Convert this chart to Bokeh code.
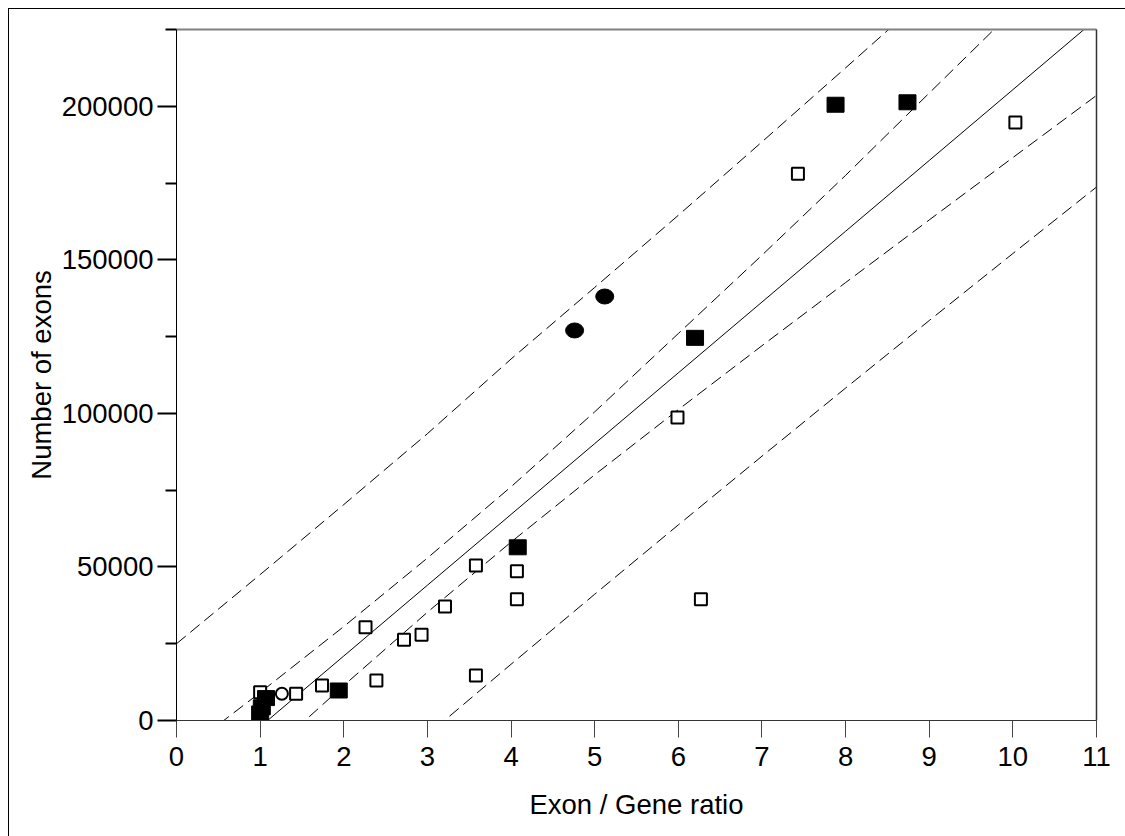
from bokeh.plotting import figure
from bokeh.models import Range1d, LinearAxis, FixedTicker, NumeralTickFormatter
from bokeh.embed import file_html
from bokeh.resources import INLINE

# ---------------- data ----------------
x_ticks = [0, 1, 2, 3, 4, 5, 6, 7, 8, 9, 10, 11]
y_ticks = [0, 50000, 100000, 150000, 200000]
y_minor_ticks = [25000, 75000, 125000, 175000, 225000]

open_sq_x = [10.03, 7.43, 5.99, 6.27, 4.07, 4.07, 3.58, 3.58, 3.21, 2.93, 2.72, 2.26, 2.39, 1.74, 1.43, 1.00, 1.00]
open_sq_y = [194700, 178000, 98700, 39500, 48600, 39500, 50470, 14650, 37100, 27900, 26300, 30400, 13000, 11400, 8690, 9200, 0]

filled_sq_x = [7.88, 8.74, 6.20, 4.08, 1.94, 1.07, 1.02, 1.00]
filled_sq_y = [200500, 201300, 124600, 56400, 9770, 7300, 4300, 2300]

filled_ell_x = [5.12, 4.76]
filled_ell_y = [138060, 127000]

open_circ_x = [1.26]
open_circ_y = [8690]

# regression line and bands, read at x = 0..11
band_x = [0, 1, 2, 3, 4, 5, 6, 7, 8, 9, 10, 11]
fit_y = [-25100, -2050, 21000, 44050, 67100, 90150, 113200, 136250, 159300, 182350, 205400, 228450]
inner_upper = [-11800, 9100, 30600, 52900, 76100, 100500, 126000, 151500, 177500, 204300, 231000, 257500]
inner_lower = [-38390, -13240, 11400, 35250, 58100, 80000, 101220, 122030, 142590, 162990, 183290, 203530]
outer_upper = [25000, 47500, 70300, 93400, 117700, 141000, 164500, 188400, 212500, 236800, 261000, 285400]
outer_lower = [-74990, -51350, -27920, -4690, 18310, 41110, 63690, 86060, 108240, 130230, 152050, 173700]

FONT = "Liberation Sans"
FS = "27.5px"
DASH = "12 6"

p = figure(width=1117, height=828, output_backend="svg", toolbar_location=None,
           x_range=Range1d(0, 11), y_range=Range1d(0, 225000),
           x_axis_location=None, y_axis_location=None,
           min_border_left=168, min_border_right=29, min_border_top=21, min_border_bottom=116)
p.xgrid.visible = False
p.ygrid.visible = False
p.outline_line_color = None
p.background_fill_color = "white"
p.border_fill_color = None
p.styles = {"box-shadow": "inset 1px 1px 0 0 #000", "margin-left": "8px", "margin-top": "8px"}

xaxis = LinearAxis(bounds=(0, 11), ticker=FixedTicker(ticks=x_ticks),
                   axis_label="Exon / Gene ratio")
xaxis.major_tick_out = 17
xaxis.major_tick_in = 0
xaxis.major_tick_line_color = "#444444"
xaxis.major_tick_line_width = 1
xaxis.axis_line_color = "#333333"
xaxis.major_label_standoff = 9
xaxis.axis_label_standoff = 20
p.add_layout(xaxis, "below")

yaxis = LinearAxis(bounds=(0, 225000),
                   ticker=FixedTicker(ticks=y_ticks, minor_ticks=y_minor_ticks),
                   formatter=NumeralTickFormatter(format="0"),
                   axis_label="Number of exons")
yaxis.major_tick_out = 19
yaxis.major_tick_in = 0
yaxis.minor_tick_out = 11
yaxis.minor_tick_in = 0
yaxis.major_tick_line_width = 2
yaxis.minor_tick_line_width = 2
yaxis.major_tick_line_color = "black"
yaxis.minor_tick_line_color = "black"
yaxis.axis_line_color = "black"
yaxis.major_label_standoff = 4
yaxis.axis_label_standoff = 2
p.add_layout(yaxis, "left")

for ax in (xaxis, yaxis):
    ax.major_label_text_font = FONT
    ax.major_label_text_font_size = FS
    ax.major_label_text_color = "black"
    ax.axis_label_text_font = FONT
    ax.axis_label_text_font_size = FS
    ax.axis_label_text_font_style = "normal"
    ax.axis_label_text_color = "black"

top_axis = LinearAxis(bounds=(0, 11), ticker=FixedTicker(ticks=[]),
                      major_label_text_font_size="0px",
                      major_tick_line_color=None, minor_tick_line_color=None,
                      axis_line_color="#808080", axis_line_width=2)
p.add_layout(top_axis, "above")
right_axis = LinearAxis(bounds=(0, 225000), ticker=FixedTicker(ticks=[]),
                        major_label_text_font_size="0px",
                        major_tick_line_color=None, minor_tick_line_color=None,
                        axis_line_color="#333333", axis_line_width=1.5)
p.add_layout(right_axis, "right")

# regression line and bands (the frame clips them at the axes)
for ys, dash in [(fit_y, "solid"), (inner_upper, DASH), (inner_lower, DASH),
                 (outer_upper, DASH), (outer_lower, DASH)]:
    p.line(band_x, ys, line_color="black", line_width=1, line_dash=dash)

# markers
p.scatter(open_sq_x, open_sq_y, marker="square", size=12, fill_color="white",
          line_color="black", line_width=2)
p.rect(filled_sq_x, filled_sq_y, width=17, height=15, width_units="screen",
       height_units="screen", fill_color="black", line_color="black")
p.ellipse(filled_ell_x, filled_ell_y, width=18, height=15, width_units="screen",
          height_units="screen", fill_color="black", line_color="black")
p.scatter(open_circ_x, open_circ_y, marker="circle", size=12, fill_color="white",
          line_color="black", line_width=2)

open("out.html", "w").write(file_html(p, INLINE))
